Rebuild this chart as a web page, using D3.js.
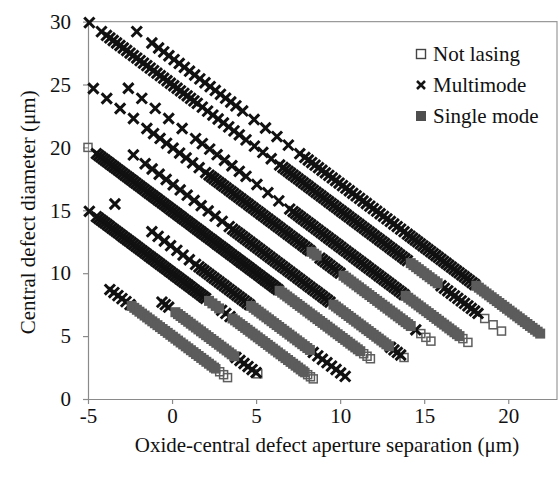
<!DOCTYPE html>
<html>
<head>
<meta charset="utf-8">
<script src="https://cdn.jsdelivr.net/npm/d3@7"></script>
<style>
body { margin: 0; background: #fff; }
svg { display: block; font-family: "Liberation Serif", "Times New Roman", serif; }
</style>
</head>
<body>
<svg width="558" height="477"></svg>
<script>
// devices sit on diagonal lines x + y = c; a run is [c, first x, last x, markers in run]
const notLasing = [
    [25.0, 18.6, 19.6, 3],
    [22.1, 17.3, 17.6, 2],
    [20.0, 14.8, 15.4, 3],
    [17.1, 13.8, 13.8, 1],
    [15.0, -5.0, -5.0, 1], [15.0, 11.4, 11.8, 3],
    [10.0, 7.9, 8.4, 4],
    [5.0, 2.6, 3.3, 4],
    [7.1, 5.1, 5.1, 1]
];
const multimode = [
    [25.0, -4.92, -4.92, 1], [25.0, -4.2, -4.2, 1], [25.0, -3.9, 1.5, 28], [25.0, 1.8, 4.0, 8],
    [25.0, 4.4, 6.4, 5], [25.0, 6.6, 14.0, 50], [25.0, 16.0, 18.2, 12],
    [27.1, -2.1, -2.1, 1], [27.1, -1.2, -1.2, 1], [27.1, -0.8, 3.8, 16], [27.1, 4.2, 7.6, 6],
    [27.1, 7.9, 13.8, 30], [27.1, 14.0, 18.0, 27],
    [20.0, -4.68, -1.5, 5], [20.0, -1.1, 2.0, 9], [20.0, 2.2, 8.2, 42], [20.0, 8.8, 10.0, 9],
    [20.0, 14.5, 14.5, 1],
    [22.1, -2.6, 1.4, 6], [22.1, 1.8, 4.0, 6], [22.1, 4.4, 7.0, 5], [22.1, 7.2, 13.8, 45],
    [15.0, -4.5, 6.3, 84],
    [17.1, -2.3, -2.3, 1], [17.1, -1.6, 3.4, 13], [17.1, 3.6, 9.4, 40], [17.1, 13.0, 13.6, 4],
    [10.0, -4.92, -4.92, 1], [10.0, -4.5, 2.0, 51], [10.0, 2.95, 3.45, 3],
    [12.1, -3.4, -3.4, 1], [12.1, -1.2, 1.4, 8], [12.1, 1.6, 4.6, 21], [12.1, 8.4, 10.3, 8],
    [5.0, -3.7, -2.5, 6],
    [7.1, -0.6, -0.2, 3], [7.1, 3.8, 5.0, 6]
];
const singleMode = [
    [25.0, 14.2, 15.8, 11],
    [27.1, 18.1, 21.9, 26],
    [20.0, 8.3, 8.6, 3], [20.0, 10.2, 14.2, 27],
    [22.1, 13.9, 17.1, 22],
    [15.0, 6.4, 11.2, 33],
    [17.1, 9.6, 12.9, 23],
    [10.0, 2.2, 2.8, 4], [10.0, 3.6, 7.8, 29],
    [12.1, 4.7, 8.2, 24],
    [5.0, -2.4, 2.5, 33],
    [7.1, 0.2, 3.7, 24]
];
const xTicks = [-5, 0, 5, 10, 15, 20];
const yTicks = [0, 5, 10, 15, 20, 25, 30];
const legendLabels = ['Not lasing', 'Multimode', 'Single mode'];

const svg = d3.select('svg');
const width = Number(svg.attr('width')), height = Number(svg.attr('height'));
const margin = {left: 88, right: 1, top: 21.6, bottom: 78};
const serif = '"Liberation Serif", "Times New Roman", serif';

const xScale = d3.scaleLinear()
    .domain([-5, 22.9])
    .range([margin.left, width - margin.right]);
const yScale = d3.scaleLinear()
    .domain([0, 30])
    .range([height - margin.bottom, margin.top]);

const toPoints = runs => runs.flatMap(([c, x0, x1, n]) => d3.range(n).map(i => {
    const x = n === 1 ? x0 : x0 + (x1 - x0) * i / (n - 1);
    return {x: x, y: c - x};
}));

// plot frame (top and right)
svg.append('path')
    .attr('d', `M${xScale(-5)},${yScale(30)}H${xScale(22.9)}V${yScale(0)}`)
    .attr('fill', 'none').attr('stroke', '#9a9a9a').attr('stroke-width', 1.2);

const xAxis = svg.append('g')
    .attr('transform', `translate(0,${yScale(0)})`)
    .call(d3.axisBottom(xScale).tickValues(xTicks).tickFormat(d => String(d))
        .tickSize(5).tickSizeOuter(0).tickPadding(4));
const yAxis = svg.append('g')
    .attr('transform', `translate(${xScale(-5)},0)`)
    .call(d3.axisLeft(yScale).tickValues(yTicks).tickFormat(d => String(d))
        .tickSize(5).tickSizeOuter(0).tickPadding(12));
[xAxis, yAxis].forEach(a => {
    a.selectAll('path, line').attr('stroke', '#8a8a8a').attr('stroke-width', 1.2);
    a.selectAll('text').attr('font-size', 21).attr('fill', '#111').attr('font-family', serif);
});

svg.append('text')
    .attr('x', 327).attr('y', 452)
    .attr('text-anchor', 'middle').attr('font-size', 21).attr('fill', '#111')
    .attr('font-family', serif)
    .text('Oxide-central defect aperture separation (μm)');
svg.append('text')
    .attr('transform', `translate(28,${(yScale(0) + yScale(30)) / 2 + 2}) rotate(-90)`)
    .attr('text-anchor', 'middle').attr('dominant-baseline', 'central')
    .attr('font-size', 21).attr('fill', '#111').attr('font-family', serif)
    .text('Central defect diameter (μm)');

const g = svg.append('g');
g.selectAll('rect.nl').data(toPoints(notLasing))
    .enter().append('rect').attr('class', 'nl')
        .attr('x', d => xScale(d.x) - 4).attr('y', d => yScale(d.y) - 4)
        .attr('width', 8).attr('height', 8)
        .attr('fill', 'none').attr('stroke', '#5e5e5e').attr('stroke-width', 1.5);
g.selectAll('path.mm').data(toPoints(multimode))
    .enter().append('path').attr('class', 'mm')
        .attr('d', d => {
            const px = xScale(d.x), py = yScale(d.y), r = 5.1;
            return `M${px - r},${py - r}L${px + r},${py + r}M${px - r},${py + r}L${px + r},${py - r}`;
        })
        .attr('stroke', '#111').attr('stroke-width', 3);
g.selectAll('rect.sm').data(toPoints(singleMode))
    .enter().append('rect').attr('class', 'sm')
        .attr('x', d => xScale(d.x) - 5).attr('y', d => yScale(d.y) - 5)
        .attr('width', 10).attr('height', 10)
        .attr('fill', '#5c5c5c');

// legend
const legend = svg.append('g').attr('transform', 'translate(421,0)');
const rowY = [54, 85, 116];
legend.append('rect').attr('x', -4.5).attr('y', rowY[0] - 4.5).attr('width', 9).attr('height', 9)
    .attr('fill', '#fff').attr('stroke', '#444').attr('stroke-width', 1.4);
legend.append('path').attr('d', `M-4,${rowY[1] - 4}L4,${rowY[1] + 4}M-4,${rowY[1] + 4}L4,${rowY[1] - 4}`)
    .attr('stroke', '#141414').attr('stroke-width', 2.5);
legend.append('rect').attr('x', -5).attr('y', rowY[2] - 5).attr('width', 10).attr('height', 10)
    .attr('fill', '#4e4e4e');
legend.selectAll('text').data(legendLabels)
    .enter().append('text')
        .attr('x', 12).attr('y', (d, i) => rowY[i])
        .attr('dominant-baseline', 'central')
        .attr('font-size', 21).attr('fill', '#111').attr('font-family', serif)
        .text(d => d);
</script>
</body>
</html>
